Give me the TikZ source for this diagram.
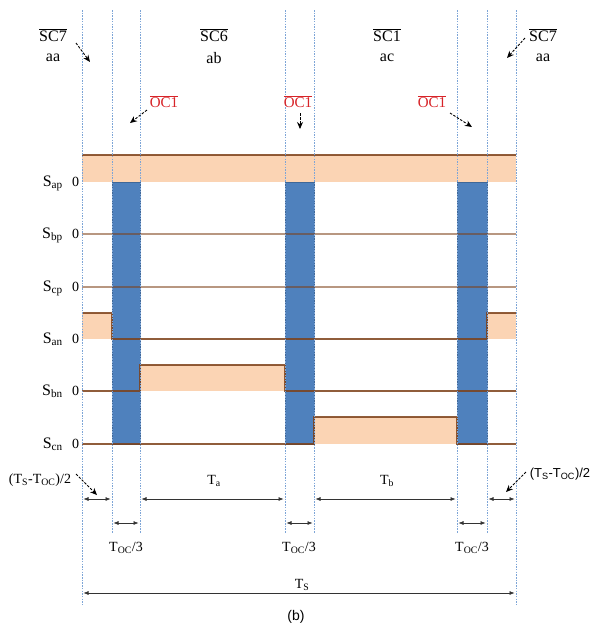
\documentclass[tikz,border=0pt]{standalone}
\usepackage{fontspec}
\setmainfont{Liberation Serif}
\newfontfamily\arialfont{Liberation Sans}
\usetikzlibrary{arrows.meta,positioning}

\definecolor{peach}{RGB}{251,212,180}
\definecolor{wavebrown}{RGB}{125,65,25}
\definecolor{barblue}{RGB}{79,129,189}
\definecolor{guideblue}{RGB}{125,165,215}
\definecolor{ocred}{RGB}{215,35,40}

\tikzset{
  guide/.style={guideblue, line width=0.6pt, dash pattern=on 1.5pt off 1.2pt},
  wave/.style={wavebrown, line width=1.3pt, opacity=0.85},
  flatwave/.style={wavebrown, line width=1.3pt, opacity=0.55},
  dimline/.style={black!80, line width=0.6pt, shorten <=1.5pt, shorten >=1.5pt,
    {Latex[length=5pt,width=4pt]}-{Latex[length=5pt,width=4pt]}},
  callout/.style={black, line width=0.9pt, dash pattern=on 2.5pt off 1.5pt,
    -{Stealth[length=7pt,width=6pt]}},
  lbl/.style={font=\fontsize{14}{16}\selectfont, inner sep=0pt},
  toplbl/.style={font=\fontsize{16}{18}\selectfont, inner sep=0pt},
}

\begin{document}
\begin{tikzpicture}[x=1pt,y=-1pt]
    \useasboundingbox (0,0) rectangle (591,633);

    % Peach "on" regions
    \fill[peach] (82,155) rectangle (516,182);
    \fill[peach] (82,313) rectangle (112,339);
    \fill[peach] (487,313) rectangle (516,339);
    \fill[peach] (140,365) rectangle (285,391);
    \fill[peach] (314,417) rectangle (457,444);

    % Shoot-through bars
    \foreach \xa/\xb in {112/140,285/314,457/487}
        \fill[barblue, draw=barblue!80!black, line width=0.5pt] (\xa,182) rectangle (\xb,444);

    % Switch signals
    \draw[wave] (82,155) -- (516,155);
    \draw[flatwave] (82,234) -- (516,234);
    \draw[flatwave] (82,287) -- (516,287);
    \draw[wave] (82,313) -- (112,313) -- (112,339) -- (487,339) -- (487,313) -- (516,313);
    \draw[wave] (82,391) -- (140,391) -- (140,365) -- (285,365) -- (285,391) -- (516,391);
    \draw[wave] (82,444) -- (314,444) -- (314,417) -- (457,417) -- (457,444) -- (516,444);

    % Dotted guides
    \foreach \x in {82,516}
        \draw[guide] (\x,10) -- (\x,605);
    \foreach \x in {112,140,285,314,457,487}
        \draw[guide] (\x,10) -- (\x,533);

    % Row labels
    \foreach \sw/\y in {ap/186, bp/238, cp/291, an/343, bn/395, cn/448} {
        \node[toplbl, anchor=base east] (s\sw) at (63,\y) {S\textsubscript{\sw}};
        \node[lbl, anchor=base] (z\sw) at (75.5,\y) {0};
    }

    % Sector labels
    \node[toplbl] (sc7l) at (53,35) {$\overline{\hbox{SC7}}$};
    \node[toplbl] (aal) at (53,58) {aa};
    \node[toplbl] (sc6) at (214,35) {$\overline{\hbox{SC6}}$};
    \node[toplbl] (ab) at (214,58) {ab};
    \node[toplbl] (sc1) at (387,35) {$\overline{\hbox{SC1}}$};
    \node[toplbl] (ac) at (387,58) {ac};
    \node[toplbl] (sc7r) at (543,35) {$\overline{\hbox{SC7}}$};
    \node[toplbl] (aar) at (543,58) {aa};

    \coordinate (sc7lt) at (90,62);
    \coordinate (sc7rt) at (507,58);
    \draw[callout] ([shift={(23,8)}]sc7l.center) -- (sc7lt);
    \draw[callout] ([shift={(-18,3)}]sc7r.center) -- (sc7rt);

    % Open-circuit markers
    \node[lbl, font=\fontsize{15}{17}\selectfont, text=ocred] (oca) at (164,102) {$\overline{\hbox{OC1}}$};
    \node[lbl, font=\fontsize{15}{17}\selectfont, text=ocred] (ocb) at (298,102) {$\overline{\hbox{OC1}}$};
    \node[lbl, font=\fontsize{15}{17}\selectfont, text=ocred] (occ) at (432,102) {$\overline{\hbox{OC1}}$};

    \coordinate (octa) at (130,123);
    \coordinate (octb) at (300,129);
    \coordinate (octc) at (472,127);
    \draw[callout] ([shift={(-17,8)}]oca.center) -- (octa);
    \draw[callout] ([shift={(2,11)}]ocb.center) -- (octb);
    \draw[callout] ([shift={(18,11)}]occ.center) -- (octc);

    % Interval arrows
    \foreach \xa/\xb in {82/112,140/285,314/457,487/516}
        \draw[dimline] (\xa,499) -- (\xb,499);
    \foreach \xa/\xb in {112/140,285/314,457/487}
        \draw[dimline] (\xa,523) -- (\xb,523);
    \draw[dimline] (82,593) -- (516,593);

    \node[lbl] (ta) at (214,481) {T\textsubscript{a}};
    \node[lbl] (tb) at (387,481) {T\textsubscript{b}};
    \node[lbl] (ts) at (302,585) {T\textsubscript{S}};
    \node[lbl] (toca) at (126,548) {T\textsubscript{OC}/3};
    \node[lbl] (tocb) at (299,548) {T\textsubscript{OC}/3};
    \node[lbl] (tocc) at (472,548) {T\textsubscript{OC}/3};

    \node[lbl] (hl) at (40,480) {(T\textsubscript{S}-T\textsubscript{OC})/2};
    \node[lbl, font=\arialfont\fontsize{13}{15}\selectfont] (hr) at (560,474) {(T\textsubscript{S}-T\textsubscript{OC})/2};
    \coordinate (hlt) at (97,495);
    \coordinate (hrt) at (506,492);
    \draw[callout] ([shift={(36,-6)}]hl.center) -- (hlt);
    \draw[callout] ([shift={(-34,-2)}]hr.center) -- (hrt);

    % Caption
    \node[font=\arialfont\fontsize{14}{16}\selectfont] (cap) at (296,617) {(b)};
\end{tikzpicture}
\end{document}
